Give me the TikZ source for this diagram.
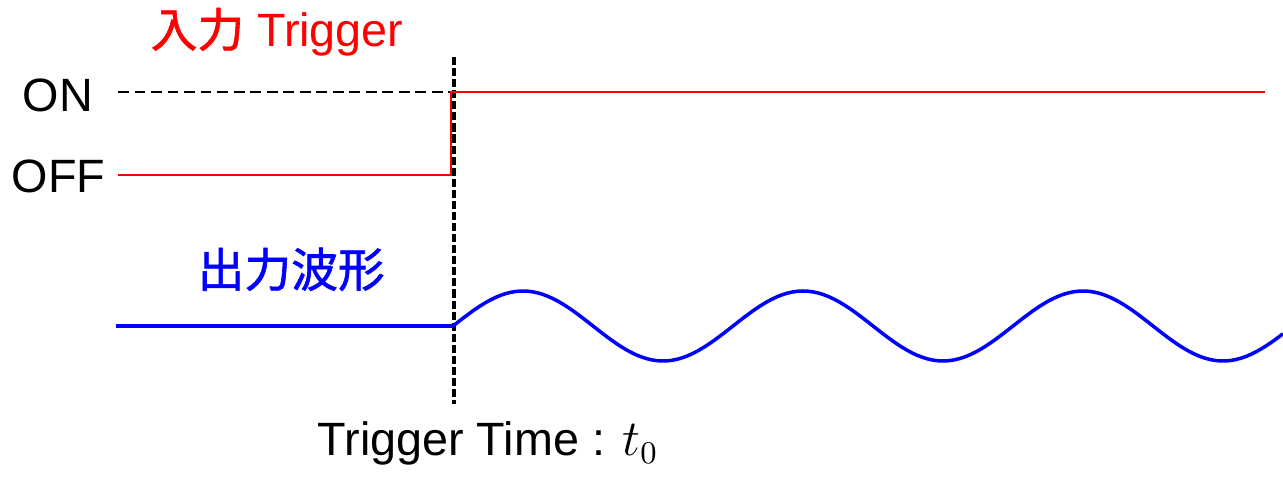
\documentclass[tikz,border=0pt]{standalone}
\usepackage[no-math]{fontspec}
\setmainfont{Liberation Sans}
\newfontfamily\jpfont[FakeBold=1.3]{Noto Sans CJK JP}
\usetikzlibrary{positioning}
\definecolor{sigred}{HTML}{FF0000}
\definecolor{sigblue}{HTML}{0000FF}
\definecolor{ink}{HTML}{000000}

\begin{document}
\begin{tikzpicture}[x=0.1mm,y=-0.1mm,font=\fontsize{13.3}{16}\selectfont,
  lbl/.style={inner sep=0pt,anchor=base west},
  trig/.style={draw=sigred,line width=0.75pt},
  wave/.style={draw=sigblue,line width=1pt},
  guide/.style={draw=ink,line width=0.65pt,dash pattern=on 3.1pt off 1.6pt},
  tline/.style={draw=ink,line width=1.1pt,dash pattern=on 2.3pt off 0.85pt}]
  \useasboundingbox (0,0) rectangle (1283,485);
  % labels
  \node[lbl,text=sigred] (trig) at (150,47) {{\jpfont 入力} Trigger};
  \node[lbl] (on) at (22,112) {ON};
  \node[lbl] (off) at (11,193) {OFF};
  \node[lbl,text=sigblue] (out) at (197,287) {\jpfont 出力波形};
  \node[lbl] (t0) at (317,456) {Trigger Time : $t_0$};
  % levels and trigger instant
  \coordinate (on0) at (118,92);
  \coordinate (off0) at (118,175);
  \coordinate (step0) at (451,175);
  \coordinate (step1) at (451,92);
  \coordinate (on1) at (1265,92);
  \coordinate (ttop) at (454,57);
  \coordinate (tbot) at (454,404);
  \coordinate (w0) at (116,326);
  \draw[tline] (ttop) -- (tbot);
  \draw[guide] (on0) -- (step1);
  \draw[trig] (off0) -- (step0) -- (step1) -- (on1);
  % output waveform, period 280
  \draw[wave] (w0) -- plot[domain=0:830,samples=160]
    (\x+453,{326-35*sin(\x*1.285714)});
\end{tikzpicture}
\end{document}
